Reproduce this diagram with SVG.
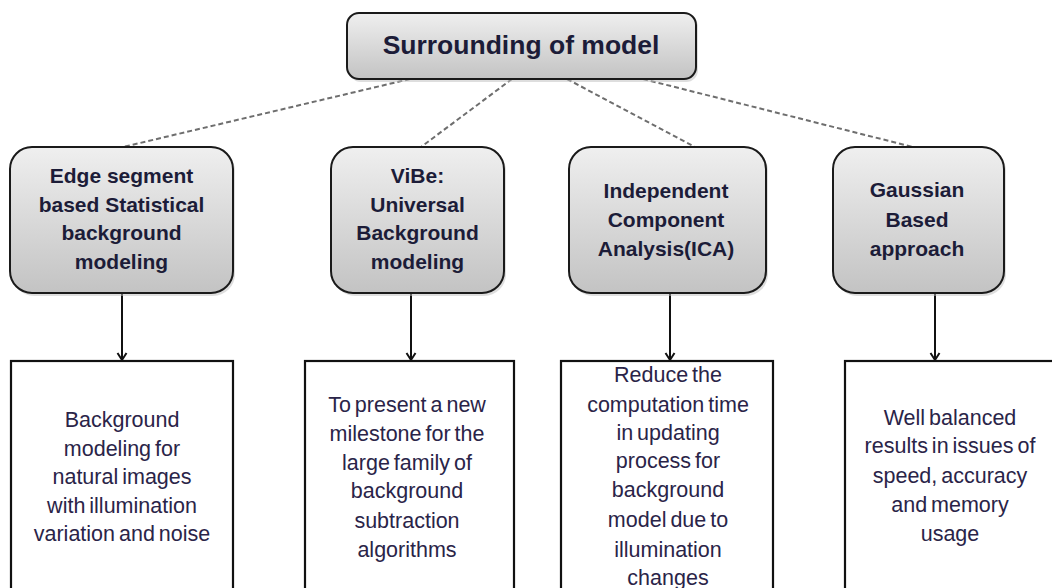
<svg xmlns="http://www.w3.org/2000/svg" width="1052" height="588" viewBox="0 0 1052 588">
<defs>
<linearGradient id="g" x1="0" y1="0" x2="0" y2="1">
<stop offset="0" stop-color="#efefef"/>
<stop offset="1" stop-color="#c3c3c3"/>
</linearGradient>
<marker id="arr" markerWidth="12" markerHeight="12" refX="10" refY="6" orient="auto" markerUnits="userSpaceOnUse" viewBox="0 0 12 12">
<path d="M3,1.5 L10,6 L3,10.5" fill="none" stroke="#111" stroke-width="2"/>
</marker>
</defs>
<style>
.rb{fill:url(#g);stroke:#1a1a1a;stroke-width:2}
.sh{fill:#bdbdbd;opacity:0.5}
.rc{fill:#fff;stroke:#111;stroke-width:2.2}
.t{font-family:"Liberation Sans",Arial,sans-serif;font-weight:bold;fill:#1c1c38;text-anchor:middle}
.b{font-family:"Liberation Sans",Arial,sans-serif;font-size:21.5px;fill:#2a2448;text-anchor:middle;word-spacing:-2px}
.d{stroke:#6e6e6e;stroke-width:2;stroke-dasharray:5 3;fill:none}
.a{stroke:#111;stroke-width:2;fill:none;marker-end:url(#arr)}
</style>
<rect width="1052" height="588" fill="#fff"/>
<g id="connectors">
<line class="d" x1="410" y1="79" x2="123" y2="147"/>
<line class="d" x1="512" y1="79" x2="421" y2="147"/>
<line class="d" x1="567" y1="79" x2="695" y2="147"/>
<line class="d" x1="643" y1="79" x2="913" y2="147"/>
<line class="a" x1="122" y1="293" x2="122" y2="360"/>
<line class="a" x1="411" y1="293" x2="411" y2="360"/>
<line class="a" x1="670" y1="293" x2="670" y2="360"/>
<line class="a" x1="935" y1="293" x2="935" y2="360"/>
</g>
<g id="root">
<rect class="sh" x="349" y="15" width="349" height="67" rx="12"/>
<rect class="rb" x="347" y="13" width="349" height="66" rx="12"/>
<text class="t" x="521" y="54" font-size="26.5">Surrounding of model</text>
</g>
<g id="n1">
<rect class="sh" x="12" y="149" width="223" height="147" rx="22"/>
<rect class="rb" x="10" y="147" width="223" height="146" rx="22"/>
<text class="t" font-size="21"><tspan x="121.5" y="183">Edge segment</tspan><tspan x="121.5" y="211.5">based Statistical</tspan><tspan x="121.5" y="240">background</tspan><tspan x="121.5" y="268.5">modeling</tspan></text>
</g>
<g id="n2">
<rect class="sh" x="333" y="149" width="173" height="147" rx="22"/>
<rect class="rb" x="331" y="147" width="173" height="146" rx="22"/>
<text class="t" font-size="21"><tspan x="417.5" y="183">ViBe:</tspan><tspan x="417.5" y="211.5">Universal</tspan><tspan x="417.5" y="240">Background</tspan><tspan x="417.5" y="268.5">modeling</tspan></text>
</g>
<g id="n3">
<rect class="sh" x="571" y="149" width="197" height="147" rx="22"/>
<rect class="rb" x="569" y="147" width="197" height="146" rx="22"/>
<text class="t" font-size="21"><tspan x="666" y="198">Independent</tspan><tspan x="666" y="227">Component</tspan><tspan x="666" y="256">Analysis(ICA)</tspan></text>
</g>
<g id="n4">
<rect class="sh" x="835" y="149" width="171" height="147" rx="22"/>
<rect class="rb" x="833" y="147" width="171" height="146" rx="22"/>
<text class="t" font-size="21"><tspan x="917" y="197">Gaussian</tspan><tspan x="917" y="227">Based</tspan><tspan x="917" y="256">approach</tspan></text>
</g>
<g id="d1">
<rect class="rc" x="11" y="361" width="222" height="260"/>
<text class="b"><tspan x="122" y="427">Background</tspan><tspan x="122" y="455.5">modeling for</tspan><tspan x="122" y="484">natural images</tspan><tspan x="122" y="513">with  illumination</tspan><tspan x="122" y="541">variation and noise</tspan></text>
</g>
<g id="d2">
<rect class="rc" x="305" y="361" width="209" height="260"/>
<text class="b"><tspan x="407" y="412">To present a new</tspan><tspan x="407" y="441">milestone for the</tspan><tspan x="407" y="470">large family of</tspan><tspan x="407" y="498">background</tspan><tspan x="407" y="528">subtraction</tspan><tspan x="407" y="557">algorithms</tspan></text>
</g>
<g id="d3">
<rect class="rc" x="561" y="361" width="212" height="260"/>
<text class="b"><tspan x="668" y="382">Reduce the</tspan><tspan x="668" y="412">computation time</tspan><tspan x="668" y="440">in updating</tspan><tspan x="668" y="468">process for</tspan><tspan x="668" y="497">background</tspan><tspan x="668" y="527">model due to</tspan><tspan x="668" y="557">illumination</tspan><tspan x="668" y="585">changes</tspan></text>
</g>
<g id="d4">
<rect class="rc" x="845" y="361" width="220" height="260"/>
<text class="b"><tspan x="950" y="425">Well balanced</tspan><tspan x="950" y="453">results in issues of</tspan><tspan x="950" y="483">speed, accuracy</tspan><tspan x="950" y="512">and memory</tspan><tspan x="950" y="541">usage</tspan></text>
</g>
</svg>
